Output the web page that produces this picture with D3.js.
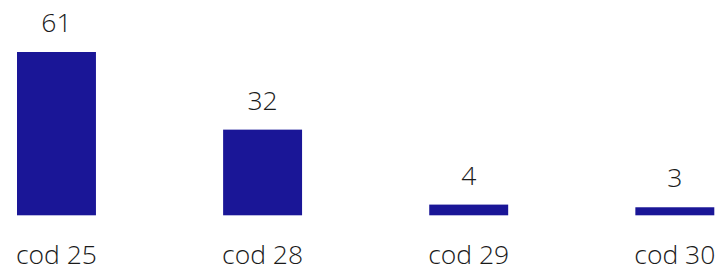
<!DOCTYPE html>
<html>
<head>
<meta charset="utf-8">
<script src="https://cdn.jsdelivr.net/npm/d3@7"></script>
<style>
  body { margin: 0; background: #fff; }
  text { font-family: "Open Sans", sans-serif; font-weight: 350; fill: #1a1a1a; }
</style>
</head>
<body>
<div id="chart"></div>
<script>
var categories = ["cod 25", "cod 28", "cod 29", "cod 30"];
var values = [61, 32, 4, 3];

var draw = function(){
	var svg = d3.select("#chart").append("svg").attr("width", 723).attr("height", 269);

	var x = d3.scaleBand().domain(categories).range([17, 714.3]).paddingInner(0.617).paddingOuter(0);
	var y = d3.scaleLinear().domain([0, 61]).range([215.3, 52]);

	svg.append("g").selectAll("rect").data(values).enter()
		.append("rect")
		.attr("x", function(d, i){ return x(categories[i]); })
		.attr("y", function(d){ return y(d); })
		.attr("width", x.bandwidth())
		.attr("height", function(d){ return y(0) - y(d); })
		.attr("fill", "#1a1697");

	// value labels above bars
	svg.append("g").selectAll("text").data(values).enter()
		.append("text")
		.attr("text-anchor", "middle")
		.attr("font-size", "26.5px")
		.attr("x", function(d, i){ return x(categories[i]) + x.bandwidth() / 2; })
		.attr("y", function(d){ return y(d) - 20; })
		.text(function(d){ return d; });

	// category labels
	svg.append("g").selectAll("text").data(categories).enter()
		.append("text")
		.attr("text-anchor", "middle")
		.attr("font-size", "26.5px")
		.attr("x", function(d){ return x(d) + x.bandwidth() / 2; })
		.attr("y", 264)
		.text(function(d){ return d; });
};

window.onload = function(){
	draw();
};
</script>
</body>
</html>
